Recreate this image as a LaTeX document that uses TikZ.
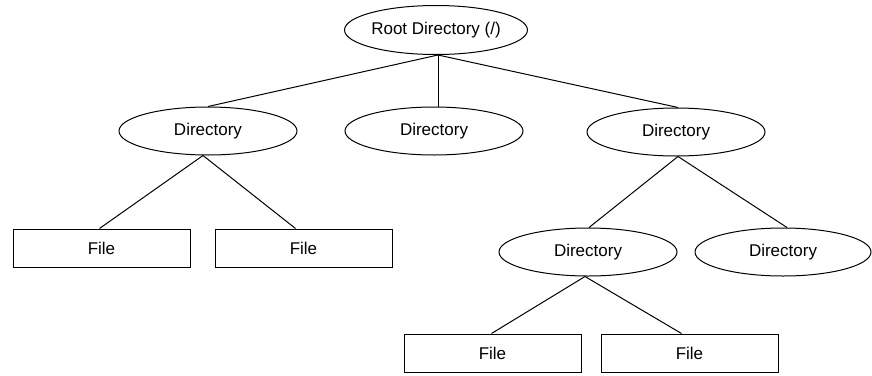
\documentclass[tikz,border=0pt]{standalone}
\usepackage{fontspec}
\setmainfont{Liberation Sans}
\usetikzlibrary{shapes.geometric}
\begin{document}
\begin{tikzpicture}[x=1pt,y=-1pt,line width=1pt,
  dirnode/.style={draw,ellipse,minimum width=178pt,minimum height=48pt,inner sep=0pt,font=\fontsize{17}{20}\selectfont},
  filenode/.style={draw,rectangle,minimum width=177pt,minimum height=38pt,inner sep=0pt,font=\fontsize{17}{20}\selectfont},
  link/.style={line width=1pt}]
\useasboundingbox (0,0) rectangle (872,375);
\node[dirnode,minimum width=174pt,minimum height=49pt] (root) at (436,30) {Root Directory (/)};
\node[dirnode] (d1) at (208,131) {Directory};
\node[dirnode] (d2) at (434,131) {Directory};
\node[dirnode] (d3) at (676,132) {Directory};
\node[dirnode] (d4) at (588,252) {Directory};
\node[dirnode,minimum width=176pt] (d5) at (783,252) {Directory};
\node[filenode] (f1) at (101.5,248) {File};
\node[filenode] (f2) at (303.5,248) {File};
\node[filenode] (f3) at (492.5,353) {File};
\node[filenode] (f4) at (689.5,353) {File};
\draw[link] ([xshift=2pt]root.south) -- (d1.north);
\draw[link] ([xshift=2pt]root.south) -- ([xshift=4pt]d2.north);
\draw[link] ([xshift=2pt]root.south) -- ([xshift=2pt]d3.north);
\draw[link] ([xshift=-5pt]d1.south) -- ([xshift=-2pt]f1.north);
\draw[link] ([xshift=-5pt]d1.south) -- ([xshift=-8pt]f2.north);
\draw[link] ([xshift=2pt]d3.south) -- ([xshift=1pt]d4.north);
\draw[link] ([xshift=2pt]d3.south) -- ([xshift=4pt]d5.north);
\draw[link] ([xshift=-3pt]d4.south) -- ([xshift=-1pt]f3.north);
\draw[link] ([xshift=-3pt]d4.south) -- ([xshift=-8pt]f4.north);
\end{tikzpicture}
\end{document}
